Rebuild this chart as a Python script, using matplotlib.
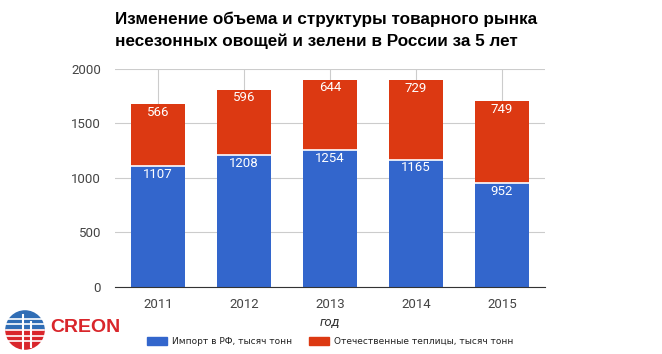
import numpy as np
import matplotlib.pyplot as plt
from matplotlib.patches import Wedge, Rectangle

# данные
years = ['2011', '2012', '2013', '2014', '2015']
importe = [1107, 1208, 1254, 1165, 952]
teplicy = [566, 596, 644, 729, 749]
legend_labels = ['Импорт в РФ, тысяч тонн', 'Отечественные теплицы, тысяч тонн']
title = 'Изменение объема и структуры товарного рынка\nнесезонных овощей и зелени в России за 5 лет'

blue = '#3366CC'
red = '#DC3912'

fig = plt.figure(figsize=(6.62, 3.54), dpi=100)
ax = fig.add_axes([115 / 662, 1 - 287 / 354, 430 / 662, 218.5 / 354])

x = np.arange(len(years))
ax.bar(x, importe, width=0.62, color=blue, zorder=3)
ax.bar(x, teplicy, width=0.62, bottom=importe, color=red, zorder=3)
# fina linea blanca entre segmentos
for xi, v in zip(x, importe):
    ax.plot([xi - 0.31, xi + 0.31], [v, v], color='white', lw=1.2, zorder=4)

for xi, a, b in zip(x, importe, teplicy):
    ax.text(xi, a - 14, str(a), ha='center', va='top', color='white', fontsize=9.5,
            family='Roboto', zorder=5)
    ax.text(xi, a + b - 14, str(b), ha='center', va='top', color='white', fontsize=9.5,
            family='Roboto', zorder=5)

ax.set_xlim(-0.5, len(years) - 0.5)
ax.set_ylim(0, 2000)
ax.set_yticks([0, 500, 1000, 1500, 2000])
ax.set_xticks(x)
ax.set_xticklabels(years)
ax.tick_params(axis='both', length=0, labelsize=9.5, labelcolor='#444444')
for lab in ax.get_xticklabels() + ax.get_yticklabels():
    lab.set_family('Roboto')
ax.tick_params(axis='x', pad=8)
ax.tick_params(axis='y', pad=10)
ax.grid(True, color='#cccccc', lw=0.8, zorder=0)
for s in ['top', 'right', 'left']:
    ax.spines[s].set_visible(False)
ax.spines['bottom'].set_color('#333333')
ax.spines['bottom'].set_zorder(6)

fig.text(330 / 662, 1 - 322 / 354, 'год', ha='center', va='center', fontsize=9.5,
         style='italic', color='#333333', family='Roboto')

fig.text(115 / 662, 1 - 12 / 354, title, ha='left', va='top', fontsize=12.3,
         fontweight='bold', family='Liberation Sans', linespacing=1.5)

# leyenda
fig.patches.append(Rectangle((147 / 662, 1 - 345 / 354), 20 / 662, 8 / 354,
                             transform=fig.transFigure, color=blue))
fig.text(172 / 662, 1 - 341 / 354, legend_labels[0], va='center', fontsize=6.5, color='#222222')
fig.patches.append(Rectangle((309 / 662, 1 - 345 / 354), 20 / 662, 8 / 354,
                             transform=fig.transFigure, color=red))
fig.text(334 / 662, 1 - 341 / 354, legend_labels[1], va='center', fontsize=6.5, color='#222222')

# logo CREON aproximado
lax = fig.add_axes([4 / 662, 1 - 352 / 354, 42 / 662, 44 / 354])
lax.set_xlim(-1.1, 1.1)
lax.set_ylim(-1.1, 1.1)
lax.set_aspect('equal')
lax.axis('off')
lax.add_patch(Wedge((0, 0), 1, 0, 180, color='#2f6db5'))
lax.add_patch(Wedge((0, 0), 1, 180, 360, color='#d9262b'))
for yy in [0.6, 0.3, 0.0, -0.3, -0.6]:
    lax.plot([-1, 1], [yy, yy], color='white', lw=1.2)
lax.plot([-0.1, -0.1], [-1, 0.8], color='white', lw=1.5)
lax.plot([0.3, 0.3], [-0.9, 0.4], color='white', lw=1.5)
fig.text(50 / 662, 1 - 328 / 354, 'CREON', fontsize=14, fontweight='bold',
         color='#d9262b', va='center', ha='left', family='Liberation Sans')

fig.savefig('out.png', dpi=100)
